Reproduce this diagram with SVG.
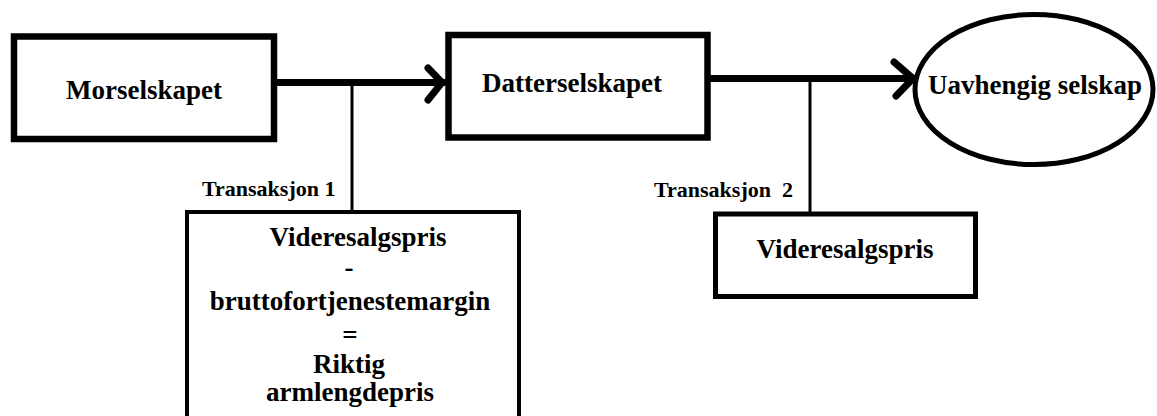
<svg xmlns="http://www.w3.org/2000/svg" width="1157" height="416" viewBox="0 0 1157 416">
<style>
.box{fill:#fff;stroke:#000}
.t{font-family:"Liberation Serif","Times New Roman",serif;font-weight:bold;font-size:27px;fill:#000;text-anchor:middle}
.s{font-family:"Liberation Serif","Times New Roman",serif;font-weight:bold;font-size:22px;fill:#000;white-space:pre}
.conn{fill:none;stroke:#000;stroke-linecap:round;stroke-linejoin:round}
</style>
<rect width="1157" height="416" fill="#fff"/>
<g id="connectors">
<line class="conn" x1="274" y1="82.5" x2="444" y2="82.5" stroke-width="7" stroke-linecap="butt"/>
<polyline class="conn" points="428,68 442,82.5 428,100" stroke-width="7"/>
<line class="conn" x1="708" y1="78.5" x2="913" y2="78.5" stroke-width="7" stroke-linecap="butt"/>
<polyline class="conn" points="894,62 913,78.5 896,96" stroke-width="7"/>
<line class="conn" x1="352" y1="82" x2="352" y2="211" stroke-width="3" stroke-linecap="butt"/>
<line class="conn" x1="810" y1="79" x2="810" y2="213" stroke-width="3" stroke-linecap="butt"/>
</g>
<g id="morselskapet">
<rect class="box" x="14" y="36.5" width="260" height="102.5" stroke-width="6.5"/>
<text class="t" x="144" y="99">Morselskapet</text>
</g>
<g id="datterselskapet">
<rect class="box" x="448.5" y="35" width="259" height="102.5" stroke-width="6.5"/>
<text class="t" x="572" y="92">Datterselskapet</text>
</g>
<g id="uavhengig">
<ellipse class="box" cx="1034" cy="89.5" rx="119" ry="75" stroke-width="5"/>
<text class="t" x="1035" y="94">Uavhengig selskap</text>
</g>
<g id="transaksjon1">
<text class="s" x="202" y="196">Transaksjon 1</text>
<rect class="box" x="187" y="212" width="332" height="220" stroke-width="4"/>
<text class="t" x="358" y="246">Videresalgspris</text>
<text class="t" x="349" y="276" font-size="24">-</text>
<text class="t" x="350" y="310">bruttofortjenestemargin</text>
<text class="t" x="350" y="344">=</text>
<text class="t" x="349" y="373">Riktig</text>
<text class="t" x="350" y="401">armlengdepris</text>
</g>
<g id="transaksjon2">
<text class="s" x="654" y="197">Transaksjon  2</text>
<rect class="box" x="715.5" y="214" width="260" height="82.5" stroke-width="5"/>
<text class="t" x="845" y="258">Videresalgspris</text>
</g>
</svg>
